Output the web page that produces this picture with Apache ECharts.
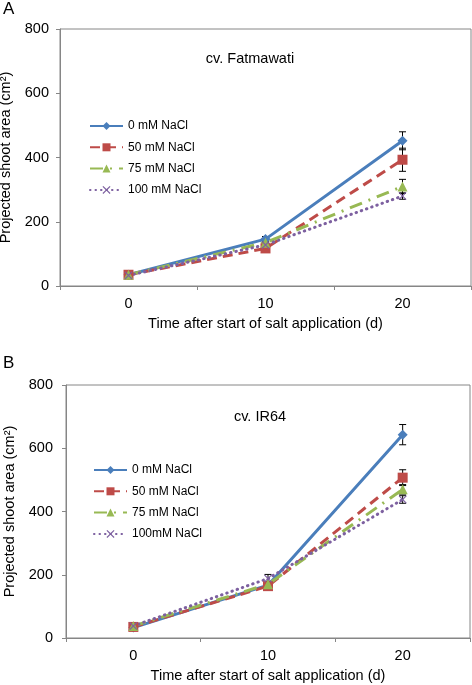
<!DOCTYPE html>
<html><head><meta charset="utf-8">
<script src="https://cdn.jsdelivr.net/npm/echarts@6/dist/echarts.min.js"></script>
<style>html,body{margin:0;padding:0;background:#fff}#c{width:472px;height:685px}</style>
</head><body><div id="c"></div>
<script>
const days = ['0', '10', '20'];
const yMin = 0, yMax = 800, yStep = 200;
const xTitle = 'Time after start of salt application (d)';
const yTitle = 'Projected shoot area (cm²)';

// Panel A: cv. Fatmawati
const namesA = ['0 mM NaCl', '50 mM NaCl', '75 mM NaCl', '100 mM NaCl'];
const a0 = [35, 146, 452],  a0Err = [2, 8, 28];
const a50 = [35, 117, 393], a50Err = [2, 8, 36];
const a75 = [35, 135, 310], a75Err = [2, 8, 22];
const a100 = [33, 128, 280], a100Err = [2, 8, 10];

// Panel B: cv. IR64
const namesB = ['0 mM NaCl', '50 mM NaCl', '75 mM NaCl', '100mM NaCl'];
const b0 = [33, 167, 643],  b0Err = [2, 8, 32];
const b50 = [35, 164, 507], b50Err = [2, 8, 25];
const b75 = [38, 170, 470], b75Err = [2, 8, 15];
const b100 = [38, 188, 438], b100Err = [2, 13, 12];

const FONT = '"Liberation Sans", Arial, sans-serif';
const AX = '#868686';
const styles = [
  {color: '#4A7EBB', type: 'solid', cap: 'butt', symbol: 'diamond', size: 10, width: 3},
  {color: '#BE4B48', type: [10, 6], cap: 'butt', symbol: 'rect', size: 10, width: 3},
  {color: '#98B954', type: [13, 7, 2, 7], cap: 'butt', symbol: 'triangle', size: 10, width: 3},
  {color: '#7D60A0', type: [0.5, 5], cap: 'round', symbol: 'path://M1,0 L5,4 L9,0 L10,1 L6,5 L10,9 L9,10 L5,6 L1,10 L0,9 L4,5 L0,1 Z', size: 8, width: 3}
];

function lineSeries(name, data, k, gi) {
  const s = styles[k];
  return {
    type: 'line', name, data, xAxisIndex: gi, yAxisIndex: gi,
    symbol: s.symbol, symbolSize: s.size, showSymbol: true,
    lineStyle: {color: s.color, width: s.width, type: s.type, cap: s.cap},
    itemStyle: {color: s.color},
    z: 3, animation: false
  };
}
function errSeries(vals, errs, gi) {
  return {
    type: 'custom', xAxisIndex: gi, yAxisIndex: gi, silent: true, z: 2, animation: false,
    data: vals.map((v, i) => [i, v - errs[i], v + errs[i]]),
    encode: {x: 0, y: [1, 2]},
    renderItem: function (params, api) {
      const lo = api.coord([api.value(0), api.value(1)]);
      const hi = api.coord([api.value(0), api.value(2)]);
      const w = 3.5;
      const st = {stroke: '#000', lineWidth: 1, fill: null};
      return {type: 'group', children: [
        {type: 'line', shape: {x1: lo[0], y1: lo[1], x2: hi[0], y2: hi[1]}, style: st},
        {type: 'line', shape: {x1: lo[0] - w, y1: lo[1], x2: lo[0] + w, y2: lo[1]}, style: st},
        {type: 'line', shape: {x1: hi[0] - w, y1: hi[1], x2: hi[0] + w, y2: hi[1]}, style: st}
      ]};
    }
  };
}
function xAx(gi) {
  return {
    type: 'category', gridIndex: gi, data: days, boundaryGap: true,
    axisLine: {lineStyle: {color: AX, width: 1}},
    axisTick: {show: true, length: 4, lineStyle: {color: AX}},
    axisLabel: {color: '#000', fontSize: 14.5, fontFamily: FONT, margin: 10},
    name: xTitle, nameLocation: 'middle', nameGap: 30,
    nameTextStyle: {color: '#000', fontSize: 14.5, fontFamily: FONT},
    splitLine: {show: false}
  };
}
function yAx(gi, margin, gap) {
  return {
    type: 'value', gridIndex: gi, min: yMin, max: yMax, interval: yStep,
    axisLine: {show: true, lineStyle: {color: AX, width: 1}},
    axisTick: {show: true, length: 4, lineStyle: {color: AX}},
    axisLabel: {color: '#000', fontSize: 14.5, fontFamily: FONT, margin: margin},
    name: yTitle, nameLocation: 'middle', nameGap: gap,
    nameTextStyle: {color: '#000', fontSize: 14.5, fontFamily: FONT},
    splitLine: {show: false}
  };
}
function legend(names, left, top, gap) {
  return {
    data: names, orient: 'vertical', left: left, top: top, padding: 0,
    itemWidth: 33, itemHeight: 10, itemGap: gap,
    textStyle: {color: '#000', fontSize: 12, fontFamily: FONT},
    selectedMode: false
  };
}

const valsA = [a0, a50, a75, a100], errsA = [a0Err, a50Err, a75Err, a100Err];
const valsB = [b0, b50, b75, b100], errsB = [b0Err, b50Err, b75Err, b100Err];

const series = [];
valsA.forEach((v, k) => series.push(lineSeries(namesA[k], v, k, 0)));
valsB.forEach((v, k) => series.push(lineSeries(namesB[k], v, k, 1)));
valsA.forEach((v, k) => series.push(errSeries(v, errsA[k], 0)));
valsB.forEach((v, k) => series.push(errSeries(v, errsB[k], 1)));

const chart = echarts.init(document.getElementById('c'), null, {renderer: 'canvas'});
chart.setOption({
  backgroundColor: '#fff',
  animation: false,
  textStyle: {fontFamily: FONT},
  grid: [
    {left: 60, top: 29, width: 411, height: 257, show: true, borderColor: AX, borderWidth: 1, containLabel: false, outerBoundsMode: 'none'},
    {left: 66, top: 385, width: 404, height: 253, show: true, borderColor: AX, borderWidth: 1, containLabel: false, outerBoundsMode: 'none'}
  ],
  xAxis: [xAx(0), xAx(1)],
  yAxis: [yAx(0, 11, 43), yAx(1, 13, 49)],
  legend: [legend(namesA, 89, 120, 9.3), legend(namesB, 93, 464, 9.3)],
  graphic: [
    {type: 'text', left: 3, top: 1, style: {text: 'A', fontSize: 17, fontFamily: FONT, fill: '#000'}},
    {type: 'text', left: 3, top: 355, style: {text: 'B', fontSize: 17, fontFamily: FONT, fill: '#000'}},
    {type: 'text', x: 250, y: 59, style: {text: 'cv. Fatmawati', fontSize: 14.5, fontFamily: FONT, fill: '#000', align: 'center', verticalAlign: 'middle'}},
    {type: 'text', x: 260, y: 417, style: {text: 'cv. IR64', fontSize: 14.5, fontFamily: FONT, fill: '#000', align: 'center', verticalAlign: 'middle'}}
  ],
  series: series
});
</script>
</body></html>
